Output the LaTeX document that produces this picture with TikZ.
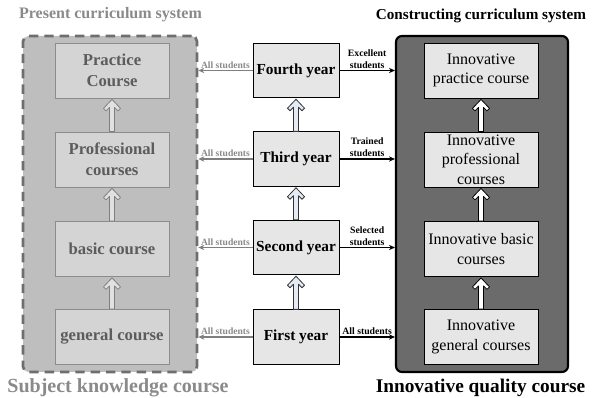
\documentclass[tikz,border=0pt]{standalone}
\usepackage{fontspec}
\setmainfont{Liberation Serif}
\usetikzlibrary{arrows.meta,calc}
\definecolor{lcfill}{HTML}{BEBEBE}
\definecolor{lcdraw}{HTML}{6E6E6E}
\definecolor{lbfill}{HTML}{D4D4D4}
\definecolor{lbdraw}{HTML}{8C8C8C}
\definecolor{ltext}{HTML}{5C5C5C}
\definecolor{ttext}{HTML}{8A8A8A}
\definecolor{rcfill}{HTML}{6B6B6B}
\definecolor{boxfill}{HTML}{E6E6E6}
\definecolor{midarrow}{HTML}{E4EBF5}
\definecolor{larrow}{HTML}{7F7F7F}
\begin{document}
\begin{tikzpicture}[x=0.75pt,y=-0.75pt,
  leftcont/.style={draw=lcdraw,fill=lcfill,line width=2pt,dash pattern=on 7pt off 4.5pt,rounded corners=4pt,minimum width=130.5pt,minimum height=252pt,inner sep=0pt},
  rightcont/.style={draw=black,fill=rcfill,line width=1.6pt,rounded corners=4.5pt,minimum width=129pt,minimum height=252pt,inner sep=0pt},
  leftbox/.style={draw=lbdraw,fill=lbfill,line width=0.6pt,minimum width=85.5pt,minimum height=41.25pt,inner sep=0pt,align=center,text=ltext,font=\fontsize{12.5}{16}\selectfont\bfseries},
  midbox/.style={draw=black,fill=boxfill,line width=0.6pt,minimum width=64.5pt,minimum height=41pt,inner sep=0pt,align=center,font=\fontsize{11.5}{14}\selectfont\bfseries},
  rightbox/.style={draw=black,fill=boxfill,line width=0.6pt,minimum width=85.5pt,minimum height=41.25pt,inner sep=0pt,align=center,font=\fontsize{12}{14.6}\selectfont},
  graylbl/.style={text=ttext,inner sep=1pt,font=\fontsize{7.2}{9}\selectfont\bfseries},
  blacklbl/.style={text=black,inner sep=1pt,align=center,font=\fontsize{7.3}{9.2}\selectfont\bfseries},
  grayline/.style={draw=larrow,line width=1.1pt,-{Stealth[length=4.5pt,width=4pt]}},
  blackline/.style={draw=black,line width=1.1pt,-{Stealth[length=4.5pt,width=4pt]}},
  hollow/.style={to path={
    ($(\tikztotarget)+(-2.5,9)$) -- ($(\tikztostart)+(-2.5,0)$) -- ($(\tikztostart)+(2.5,0)$) -- ($(\tikztotarget)+(2.5,9)$) -- ($(\tikztotarget)+(6,12.5)$) -- ($(\tikztotarget)+(8.5,10)$) -- ($(\tikztotarget)+(0,1)$) -- ($(\tikztotarget)+(-8.5,10)$) -- ($(\tikztotarget)+(-6,12.5)$) -- cycle}},
  harrowL/.style={hollow,draw=larrow,fill=lbfill!70!white,line width=0.6pt,line join=round},
  harrowM/.style={hollow,draw=black!80,fill=midarrow,line width=0.6pt,line join=round},
  harrowR/.style={hollow,draw=black,fill=white,line width=0.6pt,line join=round},
  title/.style={inner sep=0pt,font=\fontsize{12}{14}\selectfont\bfseries}
]
\useasboundingbox (0,0) rectangle (596,398);

% containers
\node[leftcont] (lc) at (110,204) {};
\node[rightcont] (rc) at (482,204) {};

% titles
\node[title,text=ttext] (t1) at (110.5,15) {Present curriculum system};
\node[title,text=black,font=\fontsize{11.4}{14}\selectfont\bfseries] (t2) at (481,16) {Constructing curriculum system};
\node[title,text=ttext,anchor=base,font=\fontsize{15}{18}\selectfont\bfseries] (t3) at (118,392.5) {Subject knowledge course};
\node[title,text=black,anchor=base,font=\fontsize{14.5}{18}\selectfont\bfseries] (t4) at (480.5,392.5) {Innovative quality course};

% left boxes
\node[leftbox] (l4) at (112,70.5) {Practice\\Course};
\node[leftbox] (l3) at (112,159.5) {Professional\\courses};
\node[leftbox] (l2) at (112,249) {basic course};
\node[leftbox] (l1) at (112,337) {general course};

% middle boxes
\node[midbox] (y4) at (296,70.5) {Fourth year};
\node[midbox] (y3) at (296,159) {Third year};
\node[midbox] (y2) at (296,247.5) {Second year};
\node[midbox] (y1) at (296,337) {First year};

% right boxes
\node[rightbox] (r4) at (481,70.5) {Innovative\\practice course};
\node[rightbox] (r3) at (481,159.5) {Innovative\\professional\\courses};
\node[rightbox] (r2) at (481,249) {Innovative basic\\courses};
\node[rightbox] (r1) at (481,337) {Innovative\\general courses};

% hollow arrows
\draw[harrowL] (l3.north) to (l4.south);
\draw[harrowL] (l2.north) to (l3.south);
\draw[harrowL] (l1.north) to (l2.south);
\draw[harrowM] (y3.north) to (y4.south);
\draw[harrowM] (y2.north) to (y3.south);
\draw[harrowM] (y1.north) to (y2.south);
\draw[harrowR] (r3.north) to (r4.south);
\draw[harrowR] (r2.north) to (r3.south);
\draw[harrowR] (r1.north) to (r2.south);

% left gray arrows
\draw[grayline] (y4.west) -- node[graylbl,above] {All students} (lc.east |- y4.west);
\draw[grayline] (y3.west) -- node[graylbl,above] {All students} (lc.east |- y3.west);
\draw[grayline] (y2.west) -- node[graylbl,above] {All students} (lc.east |- y2.west);
\draw[grayline] (y1.west) -- node[graylbl,above] {All students} (lc.east |- y1.west);

% right black arrows
\draw[blackline] (y4.east) -- node[blacklbl,above] {Excellent\\students} (rc.west |- y4.east);
\draw[blackline] (y3.east) -- node[blacklbl,above] {Trained\\students} (rc.west |- y3.east);
\draw[blackline] (y2.east) -- node[blacklbl,above] {Selected\\students} (rc.west |- y2.east);
\draw[blackline] (y1.east) -- node[blacklbl,above] {All students} (rc.west |- y1.east);
\end{tikzpicture}
\end{document}
